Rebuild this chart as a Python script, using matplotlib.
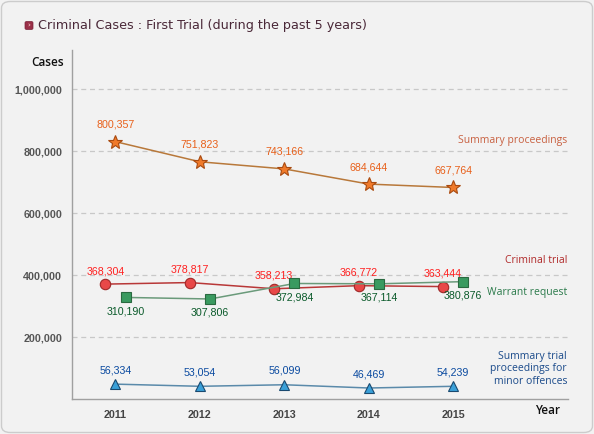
import matplotlib
matplotlib.use('Agg')
import matplotlib.pyplot as plt
from matplotlib.patches import FancyBboxPatch

W, H = 594, 434

years = [2011, 2012, 2013, 2014, 2015]

# label values printed on the chart
summary_labels = [800357, 751823, 743166, 684644, 667764]
criminal_labels = [368304, 378817, 358213, 366772, 363444]
warrant_labels = [310190, 307806, 372984, 367114, 380876]
minor_labels = [56334, 53054, 56099, 46469, 54239]

# where the markers actually sit in the picture
summary_pos = [831000, 766000, 743000, 694000, 683000]
criminal_pos = [371000, 376000, 356000, 366000, 363000]
warrant_pos = [328000, 323000, 373000, 372000, 379000]
minor_pos = [48000, 41000, 46000, 35500, 41000]

yticks = [200000, 400000, 600000, 800000, 1000000]

def px(x, y):
    return x / W, 1 - y / H

fig = plt.figure(figsize=(W / 100, H / 100), dpi=100)
fig.patch.set_facecolor('#f2f2f2')
fig.patches.append(FancyBboxPatch((1.5 / W, 1.5 / H), (W - 3) / W, (H - 3) / H,
                                  boxstyle='round,pad=0,rounding_size=0.015',
                                  transform=fig.transFigure, fc='none', ec='#cccccc', lw=1,
                                  zorder=-1))

# title with small icon
fig.patches.append(FancyBboxPatch(px(25, 29.5), 8 / W, 8 / H,
                                  boxstyle='round,pad=0,rounding_size=0.003',
                                  transform=fig.transFigure, fc='#9a3048', ec='#7a2038', lw=0.5))
fig.text(*px(29, 25.5), '›', color='#f0c0c0', fontsize=5, ha='center', va='center', fontweight='bold')
fig.text(*px(38, 25.5), 'Criminal Cases : First Trial (during the past 5 years)',
         color='#4a2838', fontsize=9.2, ha='left', va='center', family='DejaVu Sans')

left, right, top, bottom = 72, 568, 50, 399
ax = fig.add_axes([left / W, 1 - bottom / H, (right - left) / W, (bottom - top) / H])
ax.set_facecolor('none')
ax.set_xlim(2010.485, 2016.36)
ax.set_ylim(0, 1127000)
for s in ['top', 'right']:
    ax.spines[s].set_visible(False)
for s in ['left', 'bottom']:
    ax.spines[s].set_color('#a0a0a0')
    ax.spines[s].set_linewidth(1)
for v in yticks:
    ax.axhline(v, color='#c8c8c8', lw=0.9, ls=(0, (4, 3)), zorder=0)

ax.set_yticks(yticks)
ax.set_yticklabels([f'{v:,}' for v in yticks])
ax.set_xticks(years)
ax.set_xticklabels([str(y) for y in years])
ax.tick_params(axis='y', length=0, pad=7, labelsize=7.7, labelcolor='#555555')
ax.tick_params(axis='x', length=0, pad=8, labelsize=7.7, labelcolor='#444444')
for t in ax.get_xticklabels() + ax.get_yticklabels():
    t.set_family('Liberation Sans')
    t.set_fontweight('bold')

fig.text(*px(64, 63), 'Cases', ha='right', va='center', fontsize=8.5, color='#111111',
         family='Open Sans', fontweight='semibold')
fig.text(*px(548, 411), 'Year', ha='center', va='center', fontsize=8.5, color='#111111',
         family='Open Sans', fontweight='semibold')

shift = 0.12
crim_x = [y - shift for y in years]
warr_x = [y + shift for y in years]

ax.plot(years, summary_pos, color='#b8783a', lw=1.1, marker='*', ms=10.5,
        mfc='#f07a2a', mec='#a84a10', mew=0.8, zorder=3)
ax.plot(crim_x, criminal_pos, color='#b83838', lw=1.1, marker='o', ms=7.5,
        mfc='#e84848', mec='#a02828', mew=0.8, zorder=3)
ax.plot(warr_x, warrant_pos, color='#6a9a7a', lw=1.1, marker='s', ms=6.5,
        mfc='#3a9a60', mec='#2a6a40', mew=0.8, zorder=4)
ax.plot(years, minor_pos, color='#5a8aaa', lw=1.1, marker='^', ms=7.5,
        mfc='#3aa0d8', mec='#1a4a70', mew=0.8, zorder=3)

lab = dict(textcoords='offset pixels', ha='center', va='center', fontsize=7.7,
           family='Liberation Sans')
for x, y, v in zip(years, summary_pos, summary_labels):
    ax.annotate(f'{v:,}', (x, y), xytext=(0, 17), color='#e8601a', **lab)
for x, y, v in zip(crim_x, criminal_pos, criminal_labels):
    ax.annotate(f'{v:,}', (x, y), xytext=(0, 13), color='#ff2020', **lab)
for x, y, v in zip(warr_x, warrant_pos, warrant_labels):
    ax.annotate(f'{v:,}', (x, y), xytext=(0, -14), color='#0a5a2a', **lab)
for x, y, v in zip(years, minor_pos, minor_labels):
    ax.annotate(f'{v:,}', (x, y), xytext=(0, 14), color='#0a4aa0', **lab)

nm = dict(ha='right', va='center', fontsize=7.5, family='Open Sans')
fig.text(*px(567, 141), 'Summary proceedings', color='#c86040', **nm)
fig.text(*px(567, 260.5), 'Criminal trial', color='#b02828', **nm)
fig.text(*px(567, 292.7), 'Warrant request', color='#2a7a4a', **nm)
fig.text(*px(567, 369), 'Summary trial\nproceedings for\nminor offences', color='#1a4a8a',
         linespacing=1.25, multialignment='right', **nm)

fig.savefig('out.png', dpi=100, facecolor=fig.get_facecolor())
